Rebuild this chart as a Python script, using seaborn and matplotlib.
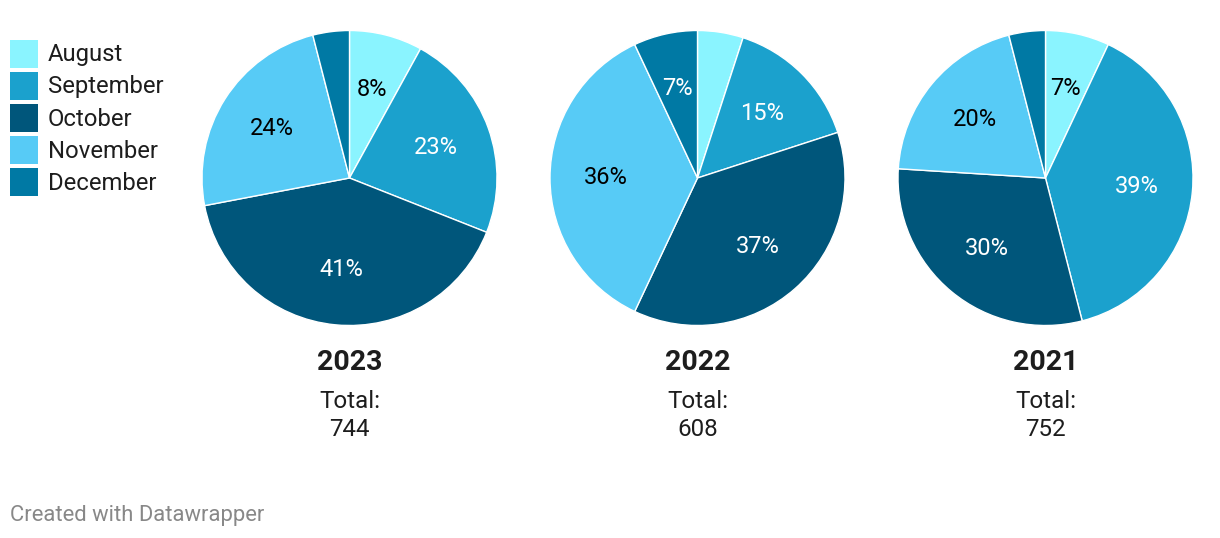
import matplotlib
matplotlib.use("Agg")
import matplotlib.pyplot as plt
import seaborn as sns
from matplotlib.patches import Rectangle

# datos (porcentajes por mes)
meses = ["August", "September", "October", "November", "December"]
anios = ["2023", "2022", "2021"]
totales = [744, 608, 752]
pct_2023 = [8, 23, 41, 24, 4]
pct_2022 = [5, 15, 37, 36, 7]
pct_2021 = [7, 39, 30, 20, 4]
colores = ["#8af4ff", "#1ba1cd", "#00567b", "#57cbf6", "#0079a4"]
color_texto = ["black", "white", "white", "black", "white"]

sns.set_theme(style="white")
plt.rcParams['font.family'] = ['Roboto', 'DejaVu Sans']

W, H = 1220, 538
fig = plt.figure(figsize=(W / 100, H / 100), dpi=100)
fig.patch.set_facecolor("white")

centros_x = [349.5, 697.5, 1045.5]
cy, r = 178, 147.5
datos = [pct_2023, pct_2022, pct_2021]

for cx, anio, total, vals in zip(centros_x, anios, totales, datos):
    ax = fig.add_axes([(cx - r) / W, 1 - (cy + r) / H, 2 * r / W, 2 * r / H])
    wedges, texts = ax.pie(vals, colors=colores, startangle=90, counterclock=False,
                           wedgeprops=dict(edgecolor="white", linewidth=1),
                           labels=[f"{v}%" if v > 5.5 else "" for v in vals],
                           labeldistance=0.62,
                           textprops=dict(fontsize=17))
    for t, c in zip(texts, color_texto):
        t.set_color(c)
        t.set_horizontalalignment("center")
        t.set_verticalalignment("center")
    ax.set_xlim(-1, 1)
    ax.set_ylim(-1, 1)
    ax.set_aspect("equal")
    ax.axis("off")
    # año y total debajo de cada torta
    fig.text(cx / W, 1 - 363 / H, anio, ha="center", va="center",
             fontsize=20.5, fontweight="bold", color="#1d1d1d")
    fig.text(cx / W, 1 - 401 / H, "Total:", ha="center", va="center",
             fontsize=17.4, color="#1d1d1d")
    fig.text(cx / W, 1 - 429 / H, str(total), ha="center", va="center",
             fontsize=17.4, color="#1d1d1d")

# leyenda manual
for i, (mes, col) in enumerate(zip(meses, colores)):
    yc = 54 + 32 * i
    fig.patches.append(Rectangle((10 / W, 1 - (yc + 14) / H), 28 / W, 28 / H,
                                 transform=fig.transFigure, facecolor=col,
                                 edgecolor="none"))
    fig.text(48 / W, 1 - (yc + 1) / H, mes, ha="left", va="center",
             fontsize=17.2, color="#1d1d1d")

fig.text(10 / W, 1 - 516 / H, "Created with Datawrapper", ha="left", va="center",
         fontsize=15.8, color="#888888")

plt.savefig("out.png", dpi=100)
